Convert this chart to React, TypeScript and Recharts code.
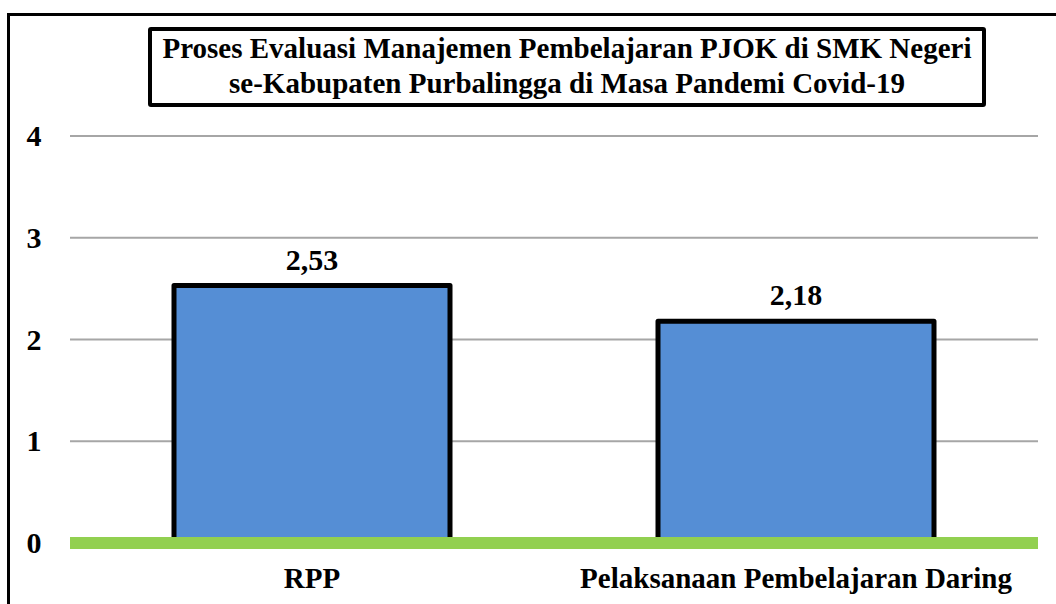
import { Bar, BarChart, CartesianGrid, LabelList, ReferenceLine, XAxis, YAxis } from 'recharts';

const categories = ['RPP', 'Pelaksanaan Pembelajaran Daring'];
const scores = [2.53, 2.18];
const yTicks = [0, 1, 2, 3, 4];
const titleLines = [
  'Proses Evaluasi Manajemen Pembelajaran PJOK di SMK Negeri',
  'se-Kabupaten Purbalingga di Masa Pandemi Covid-19',
];

const FONT = '"Liberation Serif", "Times New Roman", serif';

const data = categories.map((name, i) => ({ name, value: scores[i] }));

const YTick = ({ y, payload }: any) => (
  <text x={34} y={y + 10} textAnchor="middle" fontFamily={FONT} fontWeight="bold" fontSize={30} fill="#000">
    {payload.value}
  </text>
);

const XTick = ({ x, y, payload }: any) => (
  <text x={x} y={y + 37} textAnchor="middle" fontFamily={FONT} fontWeight="bold" fontSize={29} fill="#000">
    {payload.value}
  </text>
);

const formatValue = (v: any) => Number(v).toFixed(2).replace('.', ',');

export default function App() {
  return (
    <div style={{ position: 'absolute', left: 0, top: 0, width: 1056, height: 604, background: '#fff', overflow: 'hidden' }}>
      <div
        style={{
          position: 'absolute',
          left: 7,
          top: 13,
          width: 1100,
          height: 700,
          borderLeft: '3px solid #000',
          borderTop: '3px solid #000',
        }}
      />
      <BarChart
        width={1056}
        height={604}
        data={data}
        margin={{ top: 136, right: 18, bottom: 11, left: 0 }}
        style={{ position: 'absolute', left: 0, top: 0 }}
      >
        <CartesianGrid vertical={false} stroke="#A6A6A6" strokeWidth={2} />
        <XAxis
          dataKey="name"
          axisLine={false}
          tickLine={false}
          height={50}
          interval={0}
          tick={<XTick />}
        />
        <YAxis
          domain={[0, 4]}
          ticks={yTicks}
          axisLine={false}
          tickLine={false}
          width={70}
          tick={<YTick />}
        />
        <Bar
          dataKey="value"
          fill="#558ED5"
          stroke="#000"
          strokeWidth={5}
          strokeLinejoin="round"
          barSize={276}
          isAnimationActive={false}
        >
          <LabelList
            dataKey="value"
            position="top"
            offset={16}
            formatter={formatValue}
            style={{ fontFamily: FONT, fontWeight: 'bold', fontSize: 30, fill: '#000' }}
          />
        </Bar>
        <ReferenceLine y={0} stroke="#92D050" strokeWidth={12} />
      </BarChart>
      <div
        style={{
          position: 'absolute',
          left: 148,
          top: 27,
          width: 838,
          height: 80,
          boxSizing: 'border-box',
          border: '4px solid #000',
          borderRadius: 3,
          background: '#fff',
          textAlign: 'center',
          fontFamily: FONT,
          fontWeight: 'bold',
          fontSize: 29,
          lineHeight: '35px',
          color: '#000',
          whiteSpace: 'nowrap',
        }}
      >
        {titleLines.map((line) => (
          <div key={line}>{line}</div>
        ))}
      </div>
    </div>
  );
}
